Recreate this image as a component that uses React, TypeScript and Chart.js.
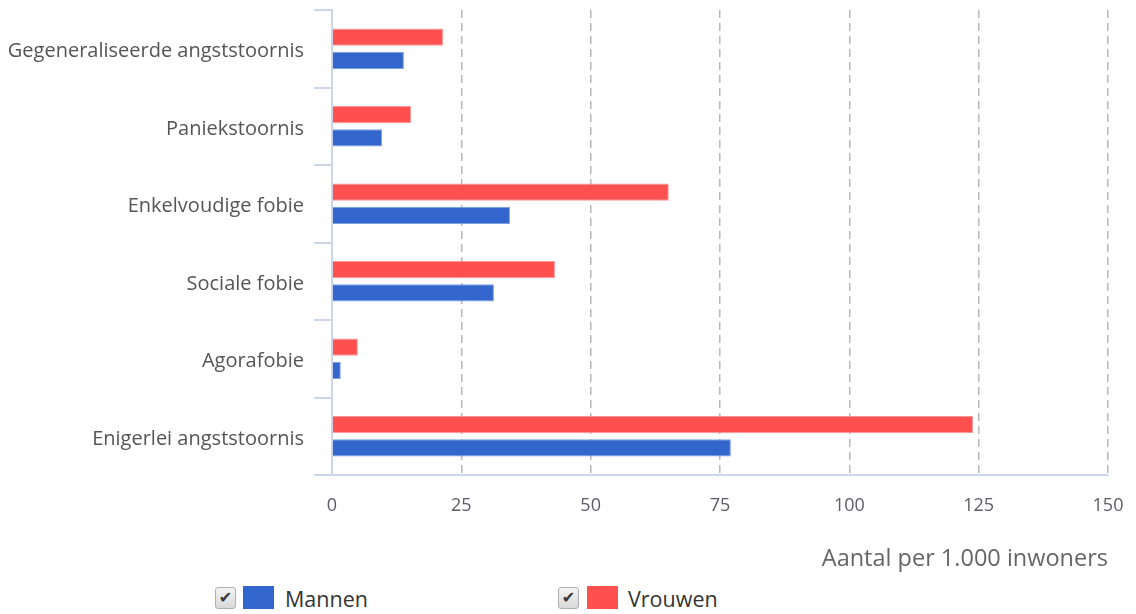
import React, { useEffect, useRef } from "react";
import { Chart, registerables } from "chart.js";

Chart.register(...registerables);

const categories = [
  "Gegeneraliseerde angststoornis",
  "Paniekstoornis",
  "Enkelvoudige fobie",
  "Sociale fobie",
  "Agorafobie",
  "Enigerlei angststoornis",
];
const vrouwen = [21.5, 15.3, 65.1, 43.1, 5.0, 123.9];
const mannen = [13.9, 9.7, 34.4, 31.3, 1.7, 77.1];
const xTicks = [0, 25, 50, 75, 100, 125, 150];
const axisTitle = "Aantal per 1.000 inwoners";

const RED = "#ff5050";
const BLUE = "#3366cc";
const FONT = "'Open Sans', 'Noto Sans', sans-serif";

function Check() {
  return (
    <div
      style={{
        position: "absolute",
        width: 19,
        height: 20,
        border: "1px solid #b0b0b0",
        borderRadius: 3,
        background: "linear-gradient(#f4f4f4,#d8d8d8)",
        color: "#3a3a3a",
        fontSize: 16,
        fontWeight: "bold",
        lineHeight: "20px",
        textAlign: "center",
        fontFamily: "'DejaVu Sans', sans-serif",
      }}
    >
      ✔
    </div>
  );
}

export default function App() {
  const ref = useRef<HTMLCanvasElement | null>(null);
  useEffect(() => {
    if (!ref.current) return;
    const chart = new Chart(ref.current, {
      type: "bar",
      data: {
        labels: categories,
        datasets: [
          {
            label: "Vrouwen",
            data: vrouwen,
            backgroundColor: RED,
            borderColor: "rgba(255,140,140,0.9)",
            borderWidth: 1,
            categoryPercentage: 0.6,
            barPercentage: 0.75,
          },
          {
            label: "Mannen",
            data: mannen,
            backgroundColor: BLUE,
            borderColor: "rgba(110,150,220,0.9)",
            borderWidth: 1,
            categoryPercentage: 0.6,
            barPercentage: 0.75,
          },
        ],
      },
      options: {
        indexAxis: "y",
        animation: false,
        responsive: false,
        maintainAspectRatio: false,
        layout: { padding: { top: 2, right: 20, left: 0, bottom: 0 } },
        plugins: { legend: { display: false }, tooltip: { enabled: false } },
        scales: {
          x: {
            min: 0,
            max: 150,
            afterBuildTicks: (s: any) => {
              s.ticks = xTicks.map((v) => ({ value: v }));
            },
            afterFit: (s: any) => {
              s.height = 108;
              s.paddingLeft = 0;
              s.paddingRight = 0;
            },
            grid: {
              drawTicks: false,
              color: (ctx: any) => (ctx.tick && ctx.tick.value === 0 ? "rgba(0,0,0,0)" : "#b8b8b8"),
              lineWidth: 1.5,
            },
            border: { display: true, color: "#ccd6eb", width: 2, dash: [8, 5] as any },
            ticks: {
              padding: 20,
              color: "#5c5c66",
              font: { family: FONT, size: 18 },
            },
            title: {
              display: true,
              text: axisTitle,
              align: "end",
              color: "#666666",
              font: { family: FONT, size: 23.5 },
              padding: { top: 0, bottom: 10 },
            },
          },
          y: {
            afterFit: (s: any) => {
              s.width = 324;
              s.paddingTop = 0;
              s.paddingBottom = 0;
            },
            grid: {
              offset: true,
              drawOnChartArea: false,
              drawTicks: true,
              tickLength: 18,
              color: "#ccd6eb",
              lineWidth: 2,
            },
            border: { display: true, color: "#ccd6eb", width: 2 },
            ticks: {
              padding: 10,
              labelOffset: 3,
              color: "#555555",
              font: { family: FONT, size: 20 },
            },
          },
        },
      },
    } as any);
    return () => chart.destroy();
  }, []);

  const textStyle: React.CSSProperties = {
    position: "absolute",
    fontFamily: FONT,
    fontSize: 21.5,
    color: "#333",
    lineHeight: "24px",
  };

  return (
    <div style={{ position: "relative", width: 1120, height: 606 }}>
      <canvas ref={ref} width={1120} height={575} style={{ display: "block", width: 1120, height: 575 }} />
      <div style={{ position: "absolute", left: 207, top: 579 }}>
        <Check />
      </div>
      <div style={{ position: "absolute", left: 235, top: 578, width: 31, height: 23, background: BLUE }} />
      <div style={{ ...textStyle, left: 277, top: 579 }}>Mannen</div>
      <div style={{ position: "absolute", left: 550, top: 579 }}>
        <Check />
      </div>
      <div style={{ position: "absolute", left: 579, top: 578, width: 31, height: 23, background: RED }} />
      <div style={{ ...textStyle, left: 620, top: 579 }}>Vrouwen</div>
    </div>
  );
}
